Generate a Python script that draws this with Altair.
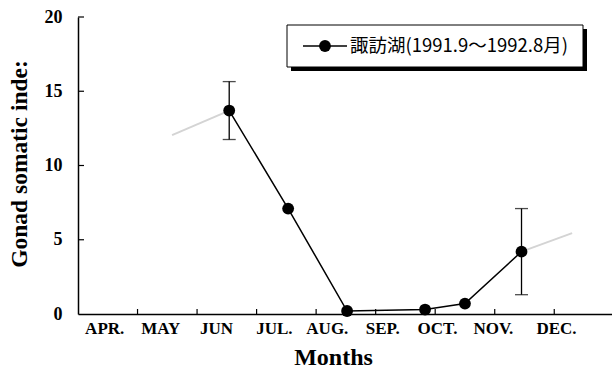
import altair as alt
import pandas as pd

# Month bands: APR occupies [0, 1], MAY [1, 2], ... on the x scale
months = ["APR.", "MAY", "JUN", "JUL.", "AUG.", "SEP.", "OCT.", "NOV.", "DEC."]
month_label_pos = [0.44, 1.38, 2.32, 3.29, 4.18, 5.11, 6.03, 6.97, 8.03]
band_ticks = [1, 2, 3, 4, 5, 6, 7, 8]
y_ticks = [5, 10, 15, 20]

# Sampling dates (in month units) and mean gonad somatic index
series_name = "諏訪湖(1991.9～1992.8月)"
sample_x = [2.54, 3.53, 4.52, 5.83, 6.50, 7.45]
gsi = [13.7, 7.1, 0.2, 0.3, 0.7, 4.2]
gsi_sd = [1.95, 0.0, 0.0, 0.0, 0.0, 2.9]

# Faint reference segments
faint_seg = [0, 0, 1, 1]
faint_x = [1.58, 2.54, 7.45, 8.30]
faint_y = [12.05, 13.7, 4.2, 5.45]

W, H = 534, 297
X_MAX = 8.97

serif = "Liberation Serif"
cjk = "Noto Sans CJK JP"

df = pd.DataFrame({"x": sample_x, "gsi": gsi, "sd": gsi_sd})
df["lo"] = df["gsi"] - df["sd"]
df["hi"] = df["gsi"] + df["sd"]
df_err = df[df["sd"] > 0]
df_faint = pd.DataFrame({"seg": faint_seg, "x": faint_x, "y": faint_y})

x_scale = alt.Scale(domain=[0, X_MAX], nice=False, zero=False)
y_scale = alt.Scale(domain=[0, 20], nice=False)

label_expr = "{}[indexof({}, datum.value)]".format(
    "[" + ",".join("'" + m + "'" for m in months) + "]",
    "[" + ",".join(str(v) for v in month_label_pos) + "]",
)

x_axis = alt.Axis(
    values=month_label_pos, labelExpr=label_expr, ticks=False, grid=False,
    domainColor="black", domainWidth=1.5,
    labelFont=serif, labelFontWeight="bold", labelFontSize=17, labelColor="black",
    labelPadding=6, labelFlush=False,
    title="Months", titleFont=serif, titleFontWeight="bold", titleFontSize=24,
    titleColor="black", titleX=255, titleY=50, titleBaseline="alphabetic",
)
y_axis = alt.Axis(
    values=[0, 5, 10, 15, 20], ticks=False, grid=False,
    domainColor="black", domainWidth=1.5,
    labelFont=serif, labelFontWeight="bold", labelFontSize=18, labelColor="black",
    labelPadding=16,
    title="Gonad somatic inde:", titleFont=serif, titleFontWeight="bold",
    titleFontSize=23.5, titleColor="black", titleX=-52, titleY=H / 2 - 2,
    titleBaseline="alphabetic",
)

X = alt.X("x:Q", scale=x_scale, axis=x_axis)
Y = alt.Y("gsi:Q", scale=y_scale, axis=y_axis)

# Inward tick marks on both axes
xticks = alt.Chart(pd.DataFrame({"t": band_ticks})).mark_rule(
    color="black", strokeWidth=1.2
).encode(
    x=alt.X("t:Q", scale=x_scale, axis=x_axis),
    y=alt.value(H), y2=alt.value(H - 5),
)
yticks = alt.Chart(pd.DataFrame({"t": y_ticks})).mark_rule(
    color="black", strokeWidth=1.2
).encode(
    y=alt.Y("t:Q", scale=y_scale, axis=y_axis),
    x=alt.value(0), x2=alt.value(6),
)

faint = alt.Chart(df_faint).mark_line(color="#d4d4d4", strokeWidth=2).encode(
    x=alt.X("x:Q", scale=x_scale, axis=x_axis),
    y=alt.Y("y:Q", scale=y_scale, axis=y_axis),
    detail="seg:N",
)

err_rule = alt.Chart(df_err).mark_rule(color="black", strokeWidth=1.3).encode(
    x=X, y=alt.Y("lo:Q", scale=y_scale, axis=y_axis), y2="hi:Q",
)
err_lo = alt.Chart(df_err).mark_tick(
    color="black", orient="horizontal", size=13, thickness=1.3
).encode(x=X, y=alt.Y("lo:Q", scale=y_scale, axis=y_axis))
err_hi = alt.Chart(df_err).mark_tick(
    color="black", orient="horizontal", size=13, thickness=1.3
).encode(x=X, y=alt.Y("hi:Q", scale=y_scale, axis=y_axis))

line = alt.Chart(df).mark_line(color="black", strokeWidth=1.5).encode(x=X, y=Y)
points = alt.Chart(df).mark_point(
    filled=True, size=140, opacity=1, color="black"
).encode(x=X, y=Y)

# Legend box with drop shadow, line-and-dot key and series label
key = alt.Chart(pd.DataFrame({"series": [series_name]}))
lg_shadow = key.mark_rect(color="black").encode(
    x=alt.value(213), x2=alt.value(509), y=alt.value(12), y2=alt.value(54),
)
lg_box = key.mark_rect(fill="white", stroke="black", strokeWidth=1).encode(
    x=alt.value(209), x2=alt.value(505), y=alt.value(8), y2=alt.value(50),
)
lg_line = key.mark_rule(color="black", strokeWidth=1.5).encode(
    x=alt.value(225), x2=alt.value(269), y=alt.value(29),
)
lg_dot = key.mark_point(filled=True, size=140, opacity=1, color="black").encode(
    x=alt.value(247), y=alt.value(29),
)
lg_text = key.mark_text(
    font=cjk, fontSize=18.5, color="black", align="left", baseline="middle"
).encode(x=alt.value(272), y=alt.value(29), text="series:N")

chart = (
    alt.layer(
        faint, xticks, yticks, err_rule, err_lo, err_hi, line, points,
        lg_shadow, lg_box, lg_line, lg_dot, lg_text,
    )
    .properties(
        width=W, height=H,
        padding={"left": 78, "top": 17, "right": 0, "bottom": 58},
        autosize=alt.AutoSizeParams(type="none"),
        background="white",
    )
    .configure_view(stroke=None)
)

chart.save("out.html", embed_options={"renderer": "svg", "actions": False})
